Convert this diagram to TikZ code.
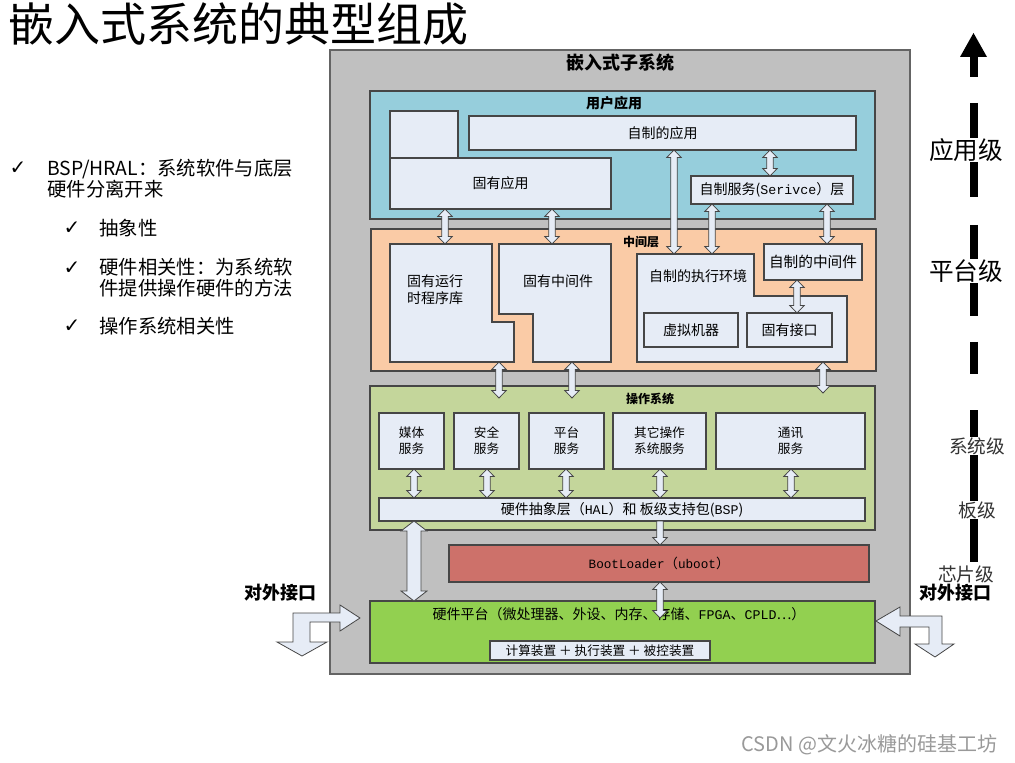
\documentclass[tikz,border=0pt]{standalone}
\usepackage{fontspec}
\setmainfont{Noto Sans CJK SC}
\newfontfamily\mono{Liberation Mono}[Scale=0.95]
\newfontfamily\sym{DejaVu Sans}
\usetikzlibrary{calc}

\definecolor{sysgray}{RGB}{192,192,192}
\definecolor{sysedge}{RGB}{100,100,100}
\definecolor{usrteal}{RGB}{150,206,220}
\definecolor{midpeach}{RGB}{250,203,166}
\definecolor{osolive}{RGB}{196,214,155}
\definecolor{bootred}{RGB}{205,113,106}
\definecolor{hwgreen}{RGB}{146,208,80}
\definecolor{boxfill}{RGB}{230,236,246}
\definecolor{edge}{RGB}{70,70,70}

\tikzset{every picture/.style={line width=0.75pt}}
\tikzset{
  sz/.style 2 args={minimum width=#1*0.75pt, minimum height=#2*0.75pt},
  layer/.style={draw=edge, line width=1pt, inner sep=0pt, outer sep=0pt, anchor=north west},
  wbox/.style={draw=edge, fill=boxfill, line width=0.9pt, inner sep=0pt, outer sep=0pt, anchor=north west, align=center},
  wpoly/.style={draw=edge, fill=boxfill, line width=0.9pt},
  blockarr/.style={draw=edge, fill=boxfill, line width=0.6pt, line join=miter},
  lvl/.style={line width=6pt},
  txt/.style={font=\fontsize{10.5}{13}\selectfont},
  srv/.style={font=\fontsize{9.5}{12}\selectfont},
  hd/.style={font=\bfseries\fontsize{9}{10}\selectfont},
  bl/.style={anchor=west, inner sep=0pt, align=left, font=\fontsize{14.5}{15.75}\selectfont},
  ck/.style={inner sep=0pt, font=\sym\fontsize{15}{16}\selectfont},
  lvtxt/.style={fill=white, inner sep=0.5pt}
}

% block arrows: x, top end, bottom end
\newcommand\shaftw{2.4pt}
\newcommand\headw{5.4pt}
\newcommand\headl{5.6pt}
\newcommand\dblarr[3]{%
  \draw[blockarr] let \p1=(#1,0 |- #2), \p2=(#1,0 |- #3) in
    (\x1,\y1) -- ({\x1+\headw},{\y1-\headl}) -- ({\x1+\shaftw},{\y1-\headl})
    -- ({\x1+\shaftw},{\y2+\headl}) -- ({\x1+\headw},{\y2+\headl}) -- (\x1,\y2)
    -- ({\x1-\headw},{\y2+\headl}) -- ({\x1-\shaftw},{\y2+\headl})
    -- ({\x1-\shaftw},{\y1-\headl}) -- ({\x1-\headw},{\y1-\headl}) -- cycle;}
\newcommand\dnarr[3]{%
  \draw[blockarr] let \p1=(#1,0 |- #2), \p2=(#1,0 |- #3) in
    ({\x1-\shaftw},\y1) -- ({\x1+\shaftw},\y1)
    -- ({\x1+\shaftw},{\y2+\headl}) -- ({\x1+\headw},{\y2+\headl}) -- (\x1,\y2)
    -- ({\x1-\headw},{\y2+\headl}) -- ({\x1-\shaftw},{\y2+\headl}) -- cycle;}

\begin{document}
\begin{tikzpicture}[x=0.75pt,y=-0.75pt]
\useasboundingbox (0,0) rectangle (1015,763);

% Title and bullets
\node[anchor=west, inner sep=0pt, font=\fontsize{34.5}{40}\selectfont] (title) at (8,24) {嵌入式系统的典型组成};
\node[ck] (ck1) at (18,168) {✓};
\node[bl] (b1) at (47,178.5) {BSP/HRAL：系统软件与底层\\硬件分离开来};
\node[ck] (ck2) at (72,228) {✓};
\node[bl] (b2) at (99,228) {抽象性};
\node[ck] (ck3) at (72,268) {✓};
\node[bl] (b3) at (99,278) {硬件相关性：为系统软\\件提供操作硬件的方法};
\node[ck] (ck4) at (72,326) {✓};
\node[bl] (b4) at (99,326) {操作系统相关性};

% Embedded subsystem frame
\node[layer, fill=sysgray, draw=sysedge, line width=0.8pt, sz={580}{624}] (sys) at (330,50) {};
\node[font=\bfseries\fontsize{13.5}{15}\selectfont] (systtl) at (620,63) {嵌入式子系统};

% User applications
\node[layer, fill=usrteal, sz={505}{128}] (usr) at (370,91) {};
\node[font=\bfseries\fontsize{10.5}{12}\selectfont] (usrttl) at (614,103) {用户应用};
\node[wbox, sz={68}{47}] (blank) at (390,111) {};
\node[wbox, sz={221}{51}, txt] (gapp) at (390,158) {固有应用};
\node[wbox, sz={387}{34}, txt] (sapp) at (469,116) {自制的应用};
\node[wbox, sz={162}{28}, txt] (svc) at (691,176) {自制服务({\mono Serivce}）层};

% Middle layer
\node[layer, fill=midpeach, sz={505}{142}] (mid) at (371,229) {};
\node[hd] (midttl) at (641,242) {中间层};
\draw[wpoly] (390,244) -- (492,244) -- (492,322) -- (514,322) -- (514,362) -- (390,362) -- cycle;
\node[txt, align=left] (rt) at (435,290) {固有运行\\时程序库};
\draw[wpoly] (499,244) -- (611,244) -- (611,362) -- (533,362) -- (533,314) -- (499,314) -- cycle;
\node[txt] (gmw) at (558,281) {固有中间件};
\draw[wpoly] (637,254) -- (754,254) -- (754,296) -- (847,296) -- (847,362) -- (637,362) -- cycle;
\node[txt] (env) at (698,276) {自制的执行环境};
\node[wbox, sz={98}{36}, font=\fontsize{11}{13}\selectfont] (smw) at (764,244) {自制的中间件};
\node[wbox, sz={94}{34}, txt] (vm) at (644,313) {虚拟机器};
\node[wbox, sz={85}{34}, txt] (gif) at (747,313) {固有接口};
\coordinate (rtT) at (390,244);
\coordinate (midB) at (390,362);
\coordinate (envT) at (637,254);

% Operating system
\node[layer, fill=osolive, sz={505}{144}] (os) at (370,386) {};
\node[hd] (osttl) at (650,399) {操作系统};
\node[wbox, sz={65}{56}, srv] (media) at (379,413) {媒体\\服务};
\node[wbox, sz={65}{56}, srv] (secu) at (454,413) {安全\\服务};
\node[wbox, sz={75}{56}, srv] (plat) at (529,413) {平台\\服务};
\node[wbox, sz={93}{56}, srv] (othr) at (613,413) {其它操作\\系统服务};
\node[wbox, sz={149}{56}, srv] (comm) at (716,413) {通讯\\服务};
\node[wbox, sz={486}{23}, txt] (hal) at (379,498) {硬件抽象层（{\mono HAL}）和 板级支持包({\mono BSP})};
\coordinate (osin) at (370,398);
\coordinate (osin2) at (370,393);

% BootLoader and hardware
\node[layer, fill=bootred, sz={420}{37}, font=\fontsize{10}{12}\selectfont] (boot) at (449,545) {{\mono BootLoader}（{\mono uboot}）};
\node[layer, fill=hwgreen, sz={505}{62}] (hw) at (370,601) {};
\node[txt] (hwtxt) at (619,614) {硬件平台（微处理器、外设、内存、存储、{\mono FPGA}、{\mono CPLD}…）};
\node[wbox, sz={220}{19}, font=\fontsize{9.5}{11}\selectfont] (dev) at (490,641) {计算装置 ＋ 执行装置 ＋ 被控装置};
\coordinate (hwin) at (370,618);

% Block arrows
\dblarr{770}{sapp.south}{svc.north}
\dblarr{674}{sapp.south}{envT}
\dblarr{445}{gapp.south}{rtT}
\dblarr{552}{gapp.south}{rtT}
\dblarr{712}{svc.south}{envT}
\dblarr{827}{svc.south}{smw.north}
\dblarr{797}{smw.south}{gif.north}
\dblarr{499}{midB}{osin}
\dblarr{572}{midB}{osin}
\dblarr{823}{midB}{osin2}
\dblarr{414}{media.south}{hal.north}
\dblarr{487}{secu.south}{hal.north}
\dblarr{566}{plat.south}{hal.north}
\dblarr{660}{othr.south}{hal.north}
\dblarr{791}{comm.south}{hal.north}
{\renewcommand\shaftw{5.25pt}\renewcommand\headw{9.75pt}\renewcommand\headl{7.5pt}%
\dblarr{414}{hal.south}{hw.north}}
\dnarr{660}{hal.south}{boot.north}
\dblarr{660}{boot.south}{hwin}

% External interfaces
\node[font=\bfseries\fontsize{13.5}{15}\selectfont] (extL) at (280,593) {对外接口};
\node[font=\bfseries\fontsize{13.5}{15}\selectfont] (extR) at (955,593) {对外接口};
\draw[blockarr] (293,613) -- (340,613) -- (340,605) -- (360,618) -- (340,631) -- (340,622) -- (310,622) -- (310,642) -- (327,642) -- (302,656) -- (277,642) -- (293,642) -- cycle;
\draw[blockarr] (876,621) -- (900,607) -- (900,616) -- (942,616) -- (942,644) -- (954,644) -- (935,657) -- (915,644) -- (929,644) -- (929,627) -- (900,627) -- (900,636) -- cycle;

% Level arrow
\fill (960,57) -- (973.5,33) -- (987,57) -- cycle;
\foreach \a/\b in {57/77,103/197,225/316,342/374,410/562}
  \draw[lvl] (973.5,\a) -- (973.5,\b);
\node[lvtxt, font=\fontsize{18.5}{20}\selectfont] (lvapp) at (966,150) {应用级};
\node[lvtxt, font=\fontsize{18.5}{20}\selectfont] (lvplat) at (966,271) {平台级};
\node[lvtxt, text=black!80, font=\fontsize{14}{15}\selectfont] (lvsys) at (977,446) {系统级};
\node[lvtxt, text=black!80, font=\fontsize{14}{15}\selectfont] (lvbrd) at (977,510) {板级};
\node[lvtxt, text=black!80, font=\fontsize{14}{15}\selectfont] (lvchip) at (966,574) {芯片级};

% Watermark
\node[anchor=east, inner sep=0pt, text=black!40, font=\fontsize{15}{16}\selectfont] (mark) at (998,745) {CSDN @文火冰糖的硅基工坊};
\end{tikzpicture}
\end{document}
